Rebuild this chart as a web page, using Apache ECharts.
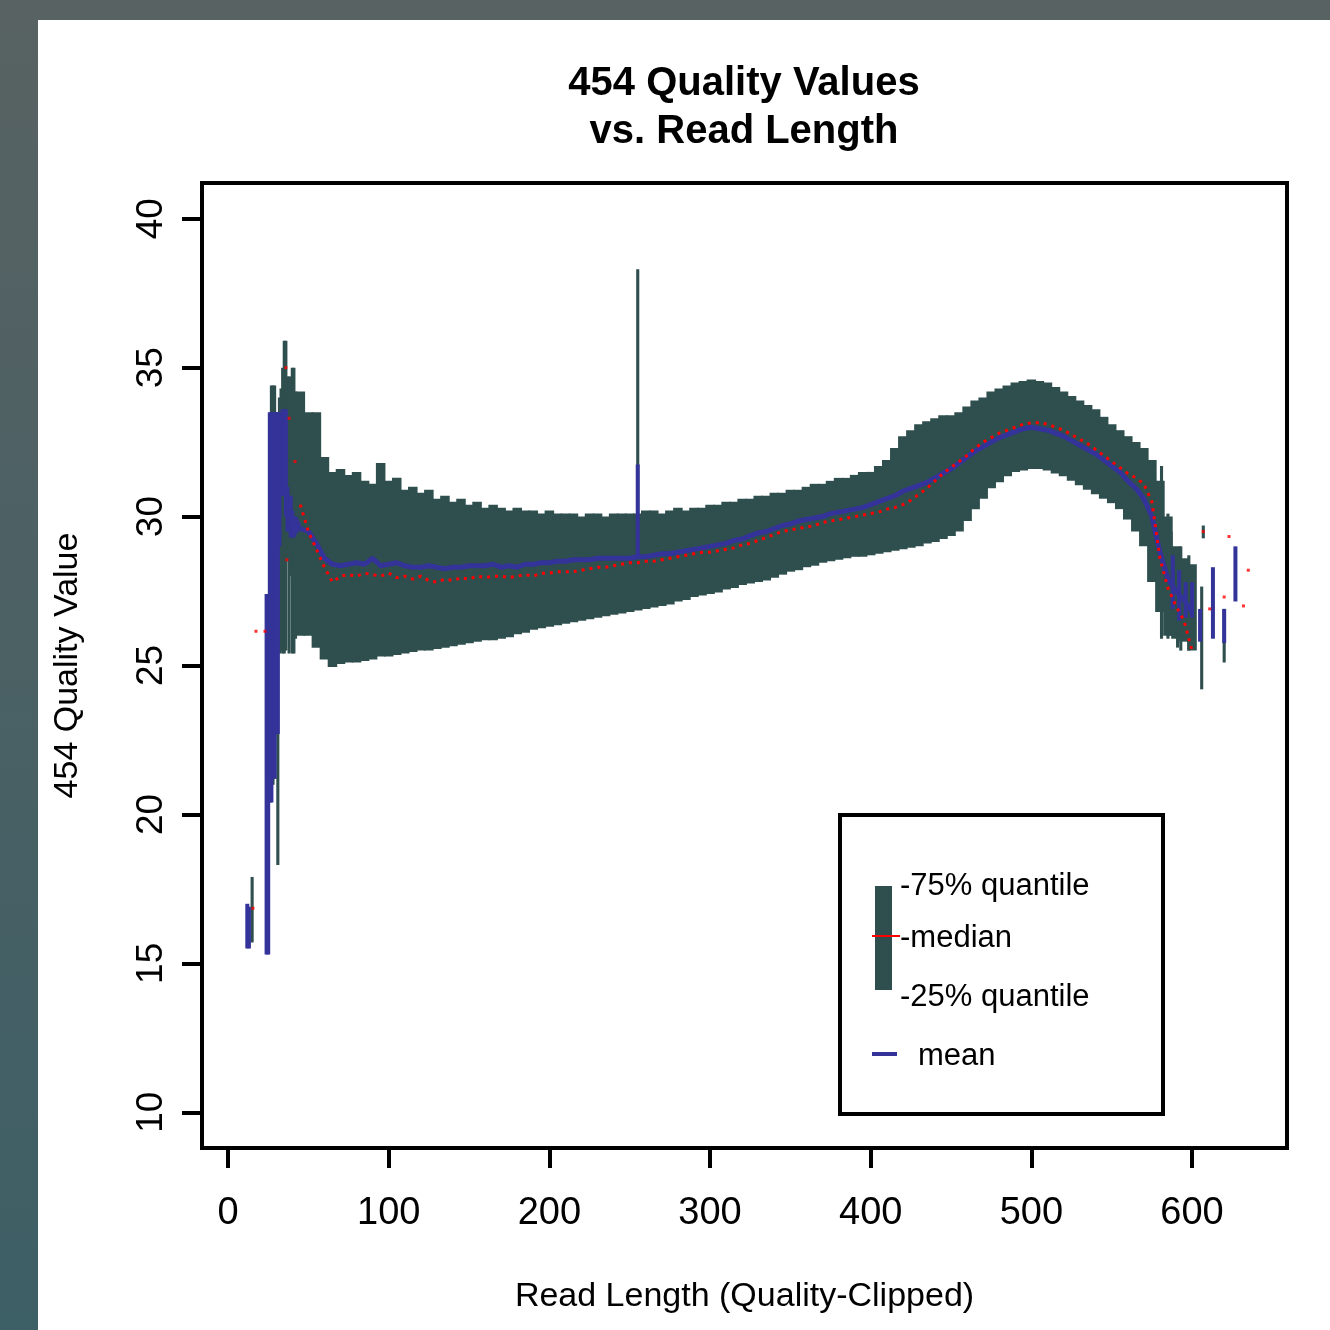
<!DOCTYPE html>
<html lang="en">
<head>
  <meta charset="UTF-8">
  <title>454 Quality Values vs. Read Length</title>
  <style>
    html, body {
      margin: 0;
      padding: 0;
      width: 1330px;
      height: 1330px;
      overflow: hidden;
      background: linear-gradient(to bottom, #586262, #3d5f66);
    }

    #myEcharts {
      position: absolute;
      left: 38px;
      top: 20px;
      width: 1292px;
      height: 1310px;
      background: #ffffff;
    }
  </style>
  <script src="https://cdn.jsdelivr.net/npm/echarts@6/dist/echarts.min.js"></script>
</head>

<body>
<div id="myEcharts"></div>

<script>
  // read lengths (step 5) for the main body of the plot
  var readLen = [45, 50, 55, 60, 65, 70, 75, 80, 85, 90, 95, 100, 105, 110, 115, 120, 125, 130, 135, 140,
    145, 150, 155, 160, 165, 170, 175, 180, 185, 190, 195, 200, 205, 210, 215, 220, 225, 230, 235, 240,
    245, 250, 255, 260, 265, 270, 275, 280, 285, 290, 295, 300, 305, 310, 315, 320, 325, 330, 335, 340,
    345, 350, 355, 360, 365, 370, 375, 380, 385, 390, 395, 400, 405, 410, 415, 420, 425, 430, 435, 440,
    445, 450, 455, 460, 465, 470, 475, 480, 485, 490, 495, 500, 505, 510, 515, 520, 525, 530, 535, 540,
    545, 550, 555, 560, 565, 570, 575, 580, 585, 590, 595, 600];

  // 75% quantile
  var q75 = [34.2, 33.5, 33.5, 32.0, 31.5, 31.6, 31.4, 31.5, 31.2, 31.1, 31.8, 31.2, 31.3, 30.9, 31.0, 30.8, 30.9, 30.6, 30.7, 30.5,
    30.6, 30.4, 30.5, 30.3, 30.4, 30.3, 30.2, 30.3, 30.2, 30.2, 30.1, 30.2, 30.1, 30.1, 30.1, 30.0, 30.1, 30.1, 30.0, 30.1,
    30.1, 30.1, 30.1, 30.2, 30.2, 30.1, 30.2, 30.3, 30.2, 30.3, 30.3, 30.4, 30.4, 30.5, 30.5, 30.6, 30.6, 30.7, 30.7, 30.8,
    30.8, 30.9, 30.9, 31.0, 31.1, 31.1, 31.2, 31.3, 31.3, 31.4, 31.5, 31.5, 31.7, 31.9, 32.3, 32.7, 32.9, 33.1, 33.2, 33.3,
    33.4, 33.4, 33.5, 33.7, 33.9, 34.0, 34.2, 34.3, 34.4, 34.5, 34.55, 34.6, 34.55, 34.5, 34.35, 34.2, 34.05, 33.9, 33.75, 33.6,
    33.35, 33.1, 32.9, 32.7, 32.5, 32.3, 31.9, 31.2, 30.0, 29.0, 28.6, 28.4];

  // 25% quantile
  var q25 = [26.0, 26.0, 25.6, 25.2, 24.95, 25.05, 25.1, 25.1, 25.15, 25.2, 25.3, 25.3, 25.35, 25.4, 25.45, 25.5, 25.5, 25.55, 25.6, 25.65,
    25.7, 25.75, 25.8, 25.85, 25.85, 25.9, 25.95, 26.05, 26.1, 26.2, 26.25, 26.3, 26.35, 26.4, 26.45, 26.5, 26.55, 26.6, 26.65, 26.7,
    26.75, 26.8, 26.85, 26.9, 26.95, 27.0, 27.05, 27.15, 27.2, 27.3, 27.35, 27.4, 27.45, 27.55, 27.6, 27.7, 27.75, 27.8, 27.85, 27.95,
    28.05, 28.15, 28.2, 28.3, 28.35, 28.45, 28.5, 28.55, 28.6, 28.65, 28.65, 28.7, 28.75, 28.8, 28.85, 28.9, 28.95, 29.0, 29.1, 29.15,
    29.25, 29.35, 29.5, 29.85, 30.25, 30.6, 30.95, 31.15, 31.35, 31.5, 31.55, 31.6, 31.6, 31.55, 31.45, 31.35, 31.2, 31.05, 30.9, 30.75,
    30.6, 30.45, 30.25, 29.9, 29.5, 29.0, 27.8, 26.8, 26.0, 25.9, 25.8, 25.5];

  // median
  var median = [30.4, 29.5, 28.9, 28.3, 27.8, 28.0, 28.05, 28.0, 28.1, 28.05, 28.0, 28.1, 27.95, 28.0, 27.9, 28.0, 27.85, 27.8, 27.9, 27.85,
    27.95, 27.9, 28.0, 27.95, 28.0, 28.0, 27.95, 28.0, 28.05, 28.0, 28.1, 28.1, 28.15, 28.15, 28.15, 28.2, 28.25, 28.3, 28.3, 28.35,
    28.4, 28.45, 28.45, 28.5, 28.5, 28.55, 28.6, 28.65, 28.7, 28.75, 28.8, 28.8, 28.85, 28.9, 28.95, 29.05, 29.1, 29.2, 29.3, 29.4,
    29.5, 29.55, 29.6, 29.65, 29.7, 29.8, 29.85, 29.9, 29.95, 30.0, 30.05, 30.1, 30.15, 30.25, 30.3, 30.4, 30.55, 30.75, 30.95, 31.2,
    31.45, 31.65, 31.85, 32.05, 32.3, 32.5, 32.65, 32.8, 32.9, 33.0, 33.1, 33.15, 33.15, 33.1, 33.0, 32.9, 32.75, 32.6, 32.45, 32.25,
    32.05, 31.85, 31.65, 31.45, 31.3, 31.1, 30.5, 28.6, 27.6, 27.0, 26.5, 25.5];

  // mean
  var mean = [29.6, 29.5, 29.1, 28.6, 28.4, 28.35, 28.4, 28.45, 28.4, 28.6, 28.35, 28.4, 28.45, 28.35, 28.3, 28.3, 28.35, 28.3, 28.25, 28.3,
    28.3, 28.35, 28.35, 28.35, 28.4, 28.3, 28.35, 28.3, 28.4, 28.4, 28.45, 28.45, 28.5, 28.5, 28.55, 28.55, 28.55, 28.6, 28.6, 28.6,
    28.6, 28.6, 28.65, 28.65, 28.7, 28.75, 28.75, 28.8, 28.85, 28.9, 28.95, 29.0, 29.05, 29.1, 29.2, 29.25, 29.35, 29.45, 29.5, 29.6,
    29.7, 29.75, 29.85, 29.9, 29.95, 30.0, 30.1, 30.15, 30.2, 30.25, 30.3, 30.4, 30.5, 30.6, 30.7, 30.85, 30.95, 31.05, 31.15, 31.3,
    31.45, 31.6, 31.8, 32.0, 32.2, 32.35, 32.5, 32.65, 32.75, 32.85, 32.95, 33.0, 32.95, 32.9, 32.8, 32.7, 32.55, 32.4, 32.25, 32.1,
    31.9, 31.7, 31.5, 31.2, 30.95, 30.6, 30.0, 28.8, 27.9, 27.5, 27.2, 26.8];

  // single read lengths outside the smooth body: [length, 25%, 75%]
  var boxCols = [[15, 15.7, 17.9], [27, 21.0, 34.4], [28, 21.0, 34.4], [29, 21.2, 34.4], [30, 25.4, 33.5], [31, 18.3, 33.2],
    [32, 25.4, 34.0], [33, 25.5, 34.3], [34, 25.4, 35.0], [35, 25.4, 35.9], [36, 25.5, 35.9], [37, 28.5, 34.7],
    [38, 25.4, 34.7], [39, 28.0, 34.7], [40, 25.4, 35.0], [41, 25.4, 35.0], [42, 25.9, 34.2],
    [255, 28.0, 38.3],
    [581, 25.9, 31.7], [585, 25.9, 30.1], [587, 26.0, 29.5], [591, 25.6, 28.7], [593, 25.5, 29.0], [598, 25.5, 28.7],
    [606, 24.2, 27.65], [607, 29.27, 29.7], [620, 25.1, 26.9]];

  // mean drawn as vertical jumps: [length, from, to]
  var meanCols = [[12, 15.5, 17.0], [13, 15.5, 16.9], [24, 15.3, 27.4], [25, 15.3, 27.4],
    [26, 20.4, 33.5], [27, 20.4, 33.5], [28, 21.2, 33.5], [29, 21.2, 33.5], [30, 22.7, 33.5], [31, 22.7, 33.5],
    [32, 29.0, 33.5], [34, 30.7, 33.6], [35, 30.7, 33.6], [36, 30.0, 33.6], [37, 29.5, 31.0], [38, 29.5, 30.7],
    [39, 29.3, 30.7], [40, 29.3, 30.2], [41, 29.3, 30.0], [42, 29.4, 30.0], [43, 29.5, 29.9], [44, 29.5, 29.8],
    [255, 28.7, 31.75],
    [588, 26.9, 28.7], [592, 26.5, 28.2], [596, 26.6, 27.8], [600, 26.6, 27.8], [605, 25.8, 26.9],
    [613, 25.9, 28.3], [620, 25.75, 26.9], [627, 27.15, 29.0]];

  // stray median points
  var medianDots = [[15.5, 16.85], [17.4, 26.15], [23, 26.15], [36, 35.0], [36.6, 28.55], [38, 33.3], [41.7, 31.85],
    [607, 29.5], [611, 26.9], [620, 27.3], [623, 29.33], [632, 27.0], [635, 28.2]];

  var xTicks = [0, 100, 200, 300, 400, 500, 600];
  var yTicks = [10, 15, 20, 25, 30, 35, 40];

  var boxColor = '#2f4f4f';
  var meanColor = '#333399';
  var font = '"Liberation Sans", Arial, sans-serif';

  var mainBox = [], meanLine = [], medLine = [];
  for (var i = 0; i < readLen.length; i++) {
    mainBox.push([readLen[i], q25[i], q75[i]]);
    meanLine.push([readLen[i], mean[i]]);
    medLine.push([readLen[i], median[i]]);
  }

  function boxItem(unitWidth, minPx) {
    return function (params, api) {
      var x = api.value(0);
      var top = api.coord([x, api.value(2)]);
      var bot = api.coord([x, api.value(1)]);
      var w = Math.max(api.size([unitWidth, 0])[0] + 1.5, minPx);
      return {
        type: 'rect',
        shape: {x: top[0] - w / 2, y: top[1], width: w, height: bot[1] - top[1]},
        style: {fill: boxColor}
      };
    };
  }

  function meanItem(params, api) {
    var x = api.value(0);
    var a = api.coord([x, api.value(1)]);
    var b = api.coord([x, api.value(2)]);
    return {
      type: 'line',
      shape: {x1: a[0], y1: a[1], x2: b[0], y2: b[1]},
      style: {stroke: meanColor, lineWidth: 4}
    };
  }

  var myChart = echarts.init(document.getElementById('myEcharts'));

  var option = {
    animation: false,
    textStyle: {fontFamily: font},
    title: {
      text: '454 Quality Values\nvs. Read Length',
      left: 701,
      top: 35,
      textAlign: 'center',
      textStyle: {fontSize: 40, fontWeight: 'bold', color: '#000', lineHeight: 48, fontFamily: font}
    },
    grid: {
      left: 164,
      top: 163,
      width: 1085,
      height: 965,
      show: true,
      borderColor: '#000',
      borderWidth: 4,
      backgroundColor: 'transparent'
    },
    xAxis: {
      type: 'value',
      min: -16.2,
      max: 659.1,
      name: 'Read Length (Quality-Clipped)',
      nameLocation: 'middle',
      nameGap: 132,
      nameTextStyle: {fontSize: 34, color: '#000', fontFamily: font},
      splitLine: {show: false},
      axisLine: {show: false, onZero: false},
      axisTick: {show: true, length: 20, inside: false, customValues: xTicks, lineStyle: {color: '#000', width: 4}},
      axisLabel: {customValues: xTicks, fontSize: 38, color: '#000', margin: 47, fontFamily: font}
    },
    yAxis: {
      type: 'value',
      min: 8.8,
      max: 41.2,
      name: '454 Quality Value',
      nameLocation: 'middle',
      nameGap: 117,
      nameRotate: 90,
      nameTextStyle: {fontSize: 34, color: '#000', fontFamily: font},
      splitLine: {show: false},
      axisLine: {show: false, onZero: false},
      axisTick: {show: true, length: 20, customValues: yTicks, lineStyle: {color: '#000', width: 4}},
      axisLabel: {customValues: yTicks, rotate: 90, fontSize: 37, color: '#000', margin: 32, fontFamily: font}
    },
    series: [
      {
        name: 'quantiles',
        type: 'custom',
        renderItem: boxItem(5, 2),
        encode: {x: 0, y: [1, 2]},
        data: mainBox,
        z: 1
      },
      {
        name: 'quantiles (single)',
        type: 'custom',
        renderItem: boxItem(1, 2.5),
        encode: {x: 0, y: [1, 2]},
        data: boxCols,
        z: 1
      },
      {
        name: 'mean',
        type: 'line',
        data: meanLine,
        showSymbol: false,
        lineStyle: {color: meanColor, width: 5},
        z: 3
      },
      {
        name: 'mean (jumps)',
        type: 'custom',
        renderItem: meanItem,
        encode: {x: 0, y: [1, 2]},
        data: meanCols,
        z: 3
      },
      {
        name: 'median',
        type: 'line',
        data: medLine,
        showSymbol: false,
        lineStyle: {color: '#ff0000', width: 3, type: [3, 5]},
        z: 4
      },
      {
        name: 'median (single)',
        type: 'scatter',
        data: medianDots,
        symbol: 'rect',
        symbolSize: 3,
        itemStyle: {color: '#ff0000'},
        z: 4
      }
    ],
    // legend box drawn by hand, like R's legend()
    graphic: [
      {type: 'rect', left: 800, top: 793, shape: {width: 323, height: 299}, style: {fill: '#fff', stroke: '#000', lineWidth: 4}, z: 10},
      {type: 'rect', left: 837, top: 866, shape: {width: 17, height: 104}, style: {fill: boxColor}, z: 11},
      {type: 'line', shape: {x1: 834, y1: 916, x2: 862, y2: 916}, style: {stroke: '#ff0000', lineWidth: 2}, z: 12},
      {type: 'line', shape: {x1: 834, y1: 1034, x2: 859, y2: 1034}, style: {stroke: meanColor, lineWidth: 4}, z: 12},
      {type: 'text', left: 862, top: 851, style: {text: '-75% quantile', font: '31px ' + font, fill: '#000'}, z: 12},
      {type: 'text', left: 862, top: 903, style: {text: '-median', font: '31px ' + font, fill: '#000'}, z: 12},
      {type: 'text', left: 862, top: 962, style: {text: '-25% quantile', font: '31px ' + font, fill: '#000'}, z: 12},
      {type: 'text', left: 880, top: 1021, style: {text: 'mean', font: '31px ' + font, fill: '#000'}, z: 12}
    ]
  };

  myChart.setOption(option);
</script>
</body>
</html>
